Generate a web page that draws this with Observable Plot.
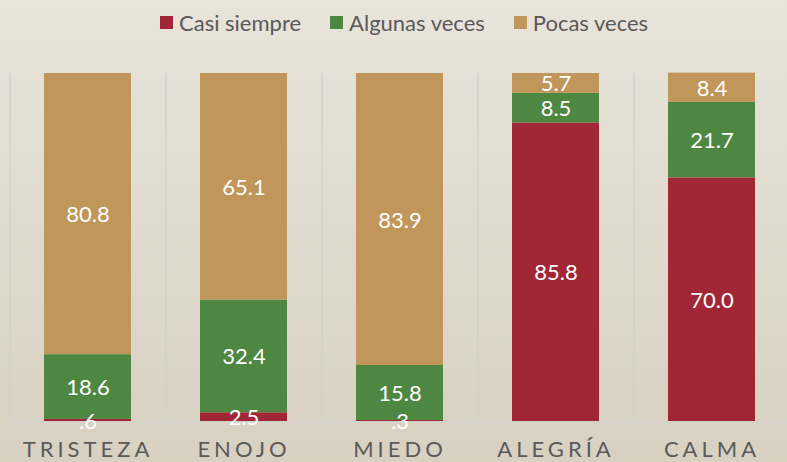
<!DOCTYPE html>
<html><head><meta charset="utf-8">
<script src="https://cdn.jsdelivr.net/npm/d3@7"></script>
<script src="https://cdn.jsdelivr.net/npm/@observablehq/plot@0.6"></script>
<style>
html,body{margin:0;padding:0;}
body{width:787px;height:462px;overflow:hidden;background:linear-gradient(#e8e4da,#d8d1c2);font-family:Lato,sans-serif;}
#legend{height:50px;display:flex;align-items:center;padding-left:160px;gap:29px;box-sizing:border-box;padding-bottom:6px;}
.item{display:flex;align-items:center;font-size:22px;color:#595959;}
.sw{width:13px;height:13px;margin-right:6px;}
svg g[aria-label="x-axis tick label"]{letter-spacing:4px;}
</style></head><body>
<div id="legend"></div><div id="chart"></div>
<script>
const categories = ["TRISTEZA","ENOJO","MIEDO","ALEGRÍA","CALMA"];
const seriesNames = ["Casi siempre","Algunas veces","Pocas veces"];
const casiSiempre = [0.6, 2.5, 0.3, 85.8, 70.0];
const algunasVeces = [18.6, 32.4, 15.8, 8.5, 21.7];
const pocasVeces = [80.8, 65.1, 83.9, 5.7, 8.4];
const colors = ["#a12737", "#4e8742", "#c1965a"];

const seriesValues = [casiSiempre, algunasVeces, pocasVeces];
const rows = categories.flatMap((c, i) => seriesNames.map((s, j) => ({cat: c, series: s, value: seriesValues[j][i]})));
const fmt = v => v.toFixed(1).replace(/^0\./, ".");

const legend = document.getElementById("legend");
seriesNames.forEach((s, j) => {
  const it = document.createElement("div"); it.className = "item";
  const sw = document.createElement("div"); sw.className = "sw"; sw.style.background = colors[j];
  it.appendChild(sw); it.appendChild(document.createTextNode(s));
  legend.appendChild(it);
});

const chart = Plot.plot({
  width: 787, height: 412, marginTop: 23, marginBottom: 41, marginLeft: 10, marginRight: 0,
  style: {background: "transparent", fontFamily: "Lato, sans-serif", overflow: "visible"},
  x: {domain: categories, range: [10, 790], paddingInner: 0.44, paddingOuter: 0.22, label: null},
  y: {domain: [0, 100], axis: null},
  color: {domain: seriesNames, range: colors},
  marks: [
    Plot.ruleX(categories, {x: d => d, y1: 0, y2: 100, dx: -78, stroke: "#d2d0cd", strokeWidth: 1.5}),
    Plot.ruleY([0], {stroke: "#d2d0cd", strokeWidth: 1.5}),
    Plot.barY(rows, {x: "cat", y: "value", fill: "series", order: seriesNames}),
    Plot.text(rows, Plot.stackY({x: "cat", y: "value", z: "series", order: seriesNames, text: d => fmt(d.value), fill: "white", fontSize: 22, dy: 1})),
    Plot.axisX({tickSize: 0, tickPadding: 20, fontSize: 22, fill: "#5a5a5a", label: null})
  ]
});
document.getElementById("chart").appendChild(chart);
</script>
</body></html>
